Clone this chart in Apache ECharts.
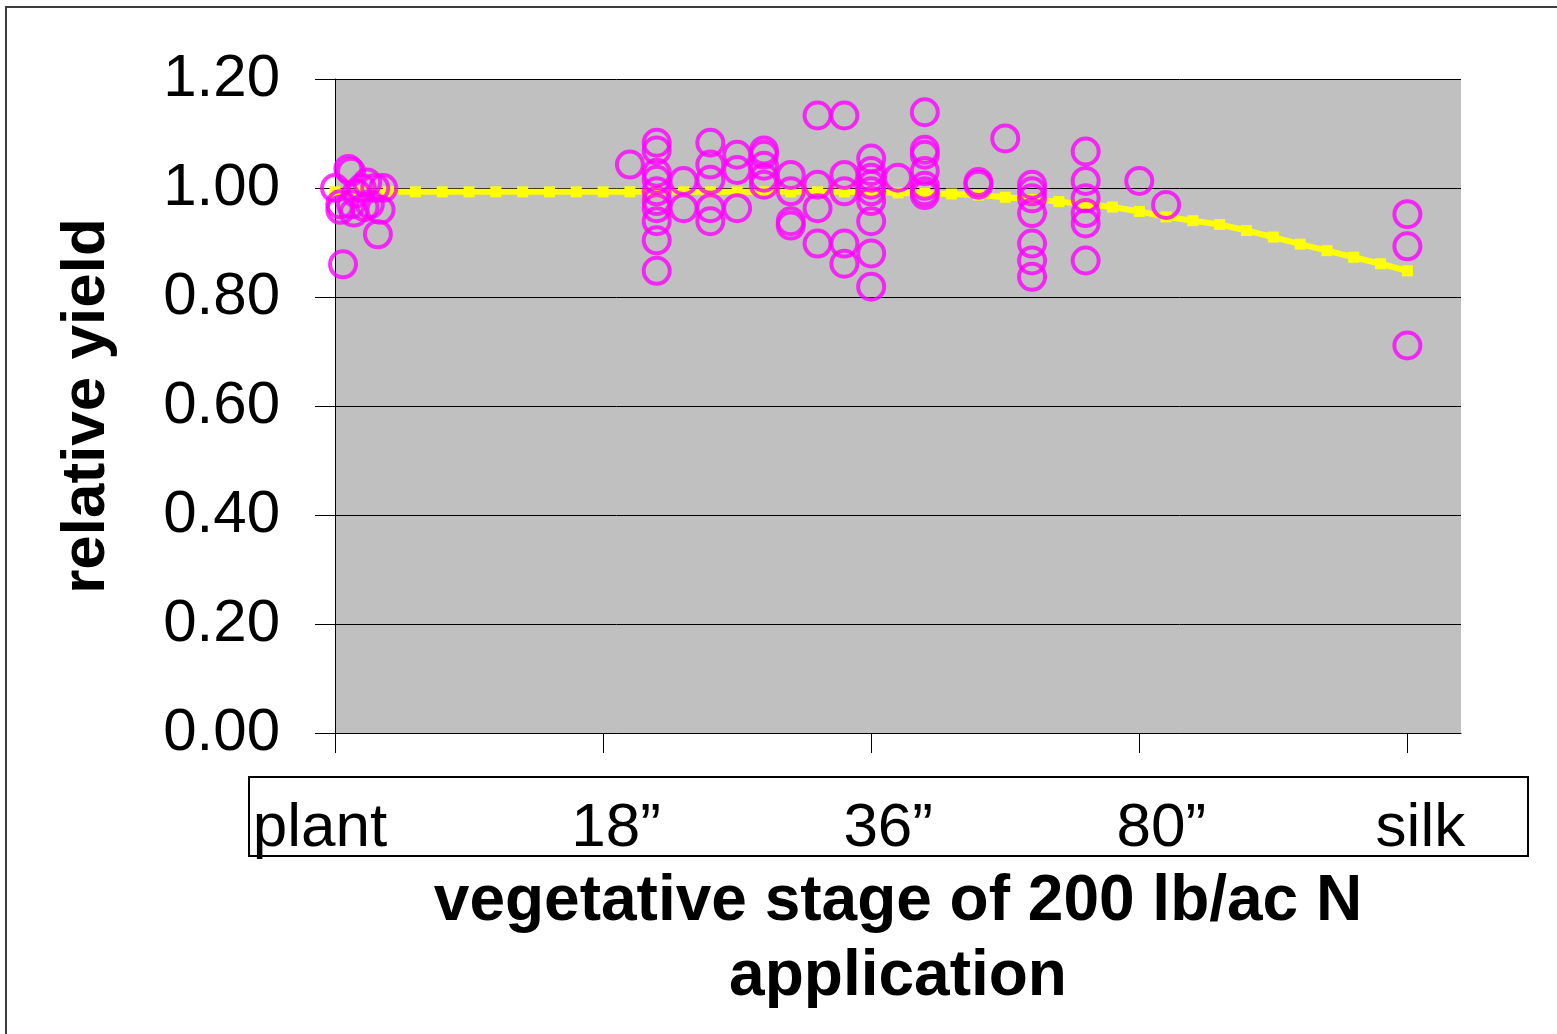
<!DOCTYPE html>
<html>
<head>
<meta charset="utf-8">
<script src="https://cdn.jsdelivr.net/npm/echarts@6/dist/echarts.min.js"></script>
<style>
  html, body { margin: 0; padding: 0; background: #fff; }
  #chart { width: 1557px; height: 1034px; }
</style>
</head>
<body>
<div id="chart"></div>
<script>
// stage labels shown under the ticks (ticks at 0, 5, 10, 15, 20)
var stageLabels = ["plant", "18\u201d", "36\u201d", "80\u201d", "silk"];

// observed relative yields [stage position, relative yield]
var plantObs = [
  [0, 1.00], [0.1, 0.96], [0.1, 0.97], [0.15, 0.86], [0.25, 1.035], [0.3, 1.03],
  [0.3, 0.97], [0.35, 0.955], [0.4, 0.99], [0.5, 1.0], [0.55, 0.965], [0.6, 1.01],
  [0.65, 0.97], [0.75, 1.0], [0.8, 0.915], [0.85, 0.96], [0.9, 1.0]
];
var midObs = [
  [5.5, 1.043],
  [6, 1.083], [6, 1.069], [6, 1.028], [6, 1.015], [6, 0.994], [6, 0.976], [6, 0.963], [6, 0.939], [6, 0.904], [6, 0.848],
  [6.5, 1.013], [6.5, 0.963],
  [7, 1.083], [7, 1.043], [7, 1.015], [7, 0.963], [7, 0.939],
  [7.5, 1.061], [7.5, 1.033], [7.5, 0.963],
  [8, 1.069], [8, 1.061], [8, 1.041], [8, 1.019], [8, 1.006],
  [8.5, 1.024], [8.5, 0.994], [8.5, 0.939], [8.5, 0.931],
  [9, 1.133], [9, 1.006], [9, 0.963], [9, 0.898],
  [9.5, 1.133], [9.5, 1.024], [9.5, 0.994], [9.5, 0.898], [9.5, 0.861],
  [10, 1.054], [10, 1.031], [10, 1.019], [10, 1.006], [10, 0.994], [10, 0.976], [10, 0.939], [10, 0.880], [10, 0.819],
  [10.5, 1.019],
  [11, 1.139], [11, 1.07], [11, 1.061], [11, 1.031], [11, 1.004], [11, 0.994], [11, 0.987]
];
var lateObs = [
  [12, 1.011], [12, 1.006],
  [12.5, 1.091],
  [13, 1.006], [13, 0.994], [13, 0.981], [13, 0.954], [13, 0.898], [13, 0.867], [13, 0.837],
  [14, 1.067], [14, 1.013], [14, 0.981], [14, 0.954], [14, 0.935], [14, 0.867],
  [15, 1.013],
  [15.5, 0.969],
  [20, 0.952], [20, 0.893], [20, 0.711]
];

// fitted trend, read every half stage unit
var trendX = [0, 0.5, 1, 1.5, 2, 2.5, 3, 3.5, 4, 4.5, 5, 5.5, 6, 6.5, 7, 7.5, 8, 8.5, 9, 9.5,
  10, 10.5, 11, 11.5, 12, 12.5, 13, 13.5, 14, 14.5, 15, 15.5, 16, 16.5, 17, 17.5, 18, 18.5, 19, 19.5, 20];
var trendY = [0.993, 0.993, 0.993, 0.993, 0.993, 0.993, 0.993, 0.993, 0.993, 0.993,
  0.993, 0.993, 0.993, 0.993, 0.993, 0.993, 0.993, 0.993, 0.993, 0.993,
  0.992, 0.991, 0.990, 0.989, 0.987, 0.983, 0.979, 0.975, 0.970, 0.965,
  0.957, 0.947, 0.940, 0.933, 0.922, 0.910, 0.897, 0.885, 0.873, 0.861, 0.848];

var chart = echarts.init(document.getElementById("chart"));
var font = "'Liberation Sans', Arial, sans-serif";

var option = {
  animation: false,
  backgroundColor: "#fff",
  textStyle: { fontFamily: font },
  grid: {
    left: 335, right: 96, top: 79, bottom: 301,
    show: true, backgroundColor: "#c0c0c0", borderWidth: 0
  },
  xAxis: {
    type: "value",
    min: 0, max: 21, interval: 5,
    splitLine: { show: false },
    axisLine: { show: true, onZero: false, lineStyle: { color: "#000", width: 1 } },
    axisTick: { show: true, length: 20, lineStyle: { color: "#000" } },
    axisLabel: {
      margin: 65,
      fontSize: 62,
      color: "#000",
      showMaxLabel: false,
      formatter: function (v) {
        var i = Math.round(v / 5);
        return "{s" + i + "|" + (stageLabels[i] || "") + "}";
      },
      rich: {
        s0: { padding: [0, 30, 0, 0] },
        s1: { padding: [0, 0, 0, 26] },
        s2: { padding: [0, 0, 0, 34] },
        s3: { padding: [0, 0, 0, 44] },
        s4: { padding: [0, 0, 0, 26] }
      }
    },
    name: "vegetative stage of 200 lb/ac N\napplication",
    nameLocation: "middle",
    nameGap: 121,
    nameTextStyle: { fontSize: 64, fontWeight: "bold", color: "#000", lineHeight: 75 }
  },
  yAxis: {
    type: "value",
    min: 0, max: 1.2, interval: 0.2,
    splitLine: { show: true, lineStyle: { color: "#000", width: 1 } },
    axisLine: { show: true, lineStyle: { color: "#000", width: 1 } },
    axisTick: { show: true, length: 20, lineStyle: { color: "#000" } },
    axisLabel: {
      margin: 55, fontSize: 60, color: "#000",
      formatter: function (v) { return v.toFixed(2); }
    },
    name: "relative yield",
    nameLocation: "middle",
    nameGap: 217,
    nameTextStyle: { fontSize: 62, fontWeight: "bold", color: "#000" }
  },
  graphic: [
    {
      type: "rect", silent: true,
      shape: { x: 6, y: 7, width: 1600, height: 1100 },
      style: { fill: null, stroke: "#3c3c3c", lineWidth: 2 }
    },
    {
      type: "rect", silent: true, z: -1,
      shape: { x: 249, y: 777, width: 1279, height: 79 },
      style: { fill: null, stroke: "#000", lineWidth: 2 }
    }
  ],
  series: [
    {
      name: "trend",
      type: "line",
      data: trendX.map(function (x, i) { return [x, trendY[i]]; }),
      symbol: "rect",
      symbolSize: 11,
      showAllSymbol: true,
      itemStyle: { color: "#ffff00" },
      lineStyle: { color: "#ffff00", width: 6 },
      z: 2
    },
    {
      name: "observed",
      type: "scatter",
      data: plantObs.concat(midObs, lateObs),
      symbol: "circle",
      symbolSize: 26,
      itemStyle: { color: "rgba(0,0,0,0)", borderColor: "#ff00ff", borderWidth: 4 },
      z: 3
    }
  ]
};

chart.setOption(option);
</script>
</body>
</html>
